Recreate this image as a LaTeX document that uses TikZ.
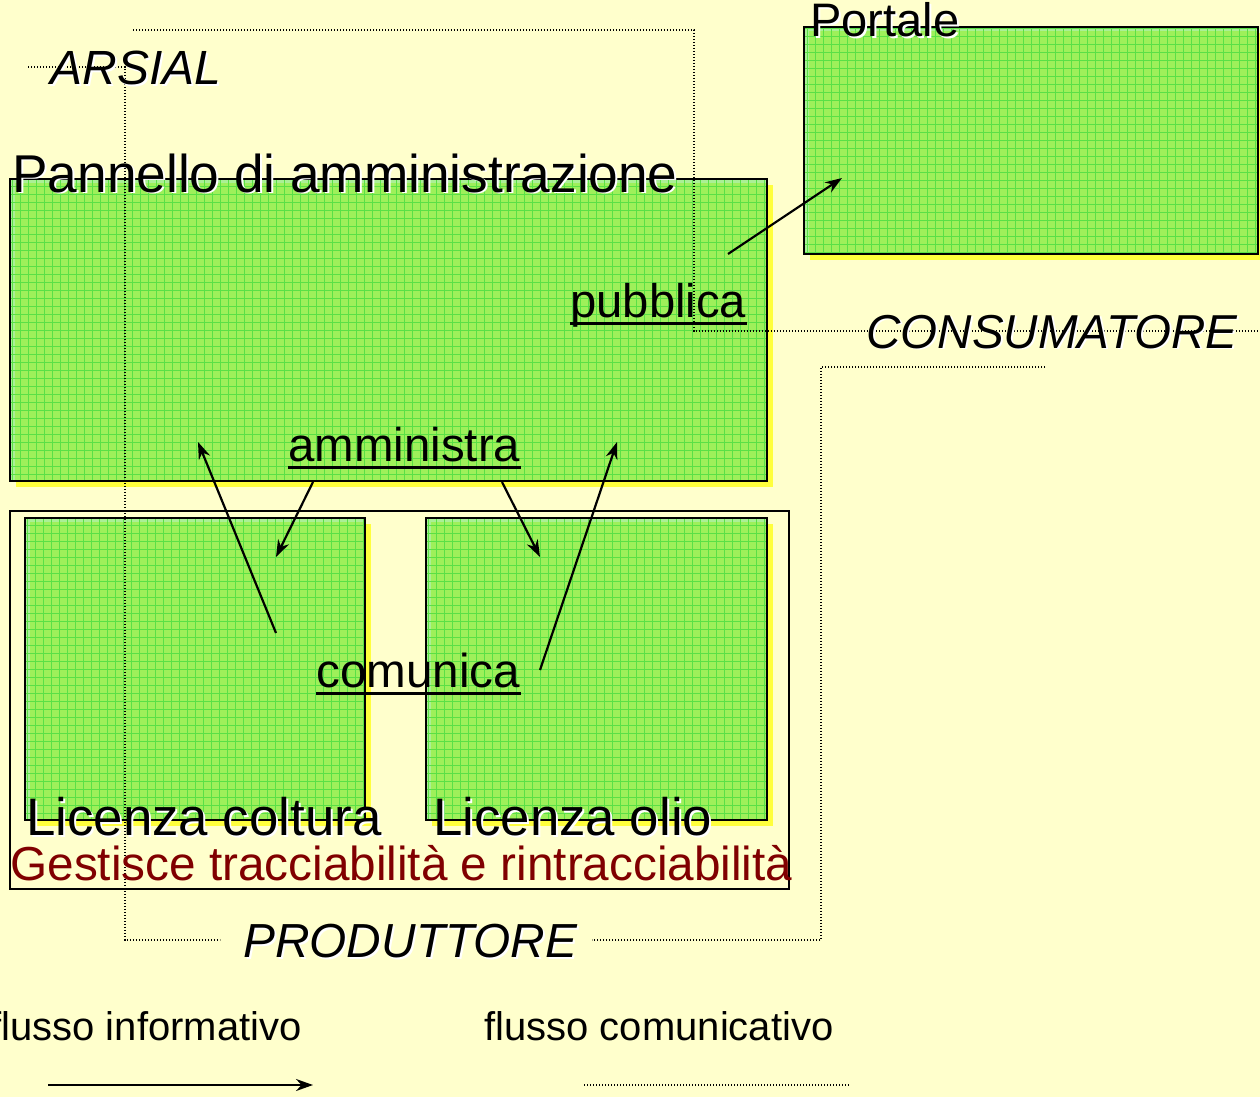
\documentclass[tikz,border=0pt]{standalone}
\usepackage{fontspec}
\setmainfont{Liberation Sans}
\usetikzlibrary{arrows.meta,shadows}
\definecolor{bgyellow}{RGB}{255,255,204}
\definecolor{boxgreen}{RGB}{158,240,90}
\definecolor{edgegreen}{RGB}{170,240,150}
\definecolor{gridgreen}{RGB}{90,224,70}
\definecolor{shadowyellow}{RGB}{255,255,60}
\definecolor{darkred}{RGB}{128,0,0}
\tikzset{
  greenbox/.style={draw=black, line width=1pt, fill=boxgreen, inner sep=0pt,
    general shadow={fill=shadowyellow, shadow xshift=3pt, shadow yshift=-3pt},
    path picture={
      \fill[edgegreen] (path picture bounding box.south west) rectangle
        ([xshift=2.5pt]path picture bounding box.north west);
      \fill[edgegreen] ([yshift=-2pt]path picture bounding box.north west) rectangle
        (path picture bounding box.north east);
      \draw[gridgreen, line width=0.45pt]
      (path picture bounding box.south west) grid[step=4pt]
      (path picture bounding box.north east);}},
  framebox/.style={draw=black, line width=0.8pt, inner sep=0pt},
  lbl/.style={anchor=base west, inner sep=0pt},
  txtshadow/.style={lbl, text=white},
  flowline/.style={line width=1.1pt, -{Stealth[length=8.5pt,width=6pt]}},
  dotline/.style={line width=0.6pt, dash pattern=on 0.6pt off 0.9pt},
  uline/.style={line width=1.5pt}
}
\begin{document}
\begin{tikzpicture}[x=0.5pt,y=-0.5pt]
\useasboundingbox[fill=bgyellow] (0,0) rectangle (1260,1097);

% boxes
\node[greenbox, minimum width=378.5pt, minimum height=151pt] (pannello) at (388.5,330) {};
\node[greenbox, minimum width=227pt, minimum height=113.5pt] (portale) at (1031,140.5) {};
\node[framebox, minimum width=389.5pt, minimum height=189pt] (produttore) at (399.5,700) {};
\node[greenbox, minimum width=170pt, minimum height=151pt] (coltura) at (195,669) {};
\node[greenbox, minimum width=170.5pt, minimum height=151pt] (olio) at (596.5,669) {};

% dotted group outlines
\coordinate (a1) at (28,67);
\coordinate (a2) at (125,67);
\coordinate (a3) at (125,940);
\coordinate (a4) at (220,940);
\draw[dotline] (a1) -- (a2) -- (a3) -- (a4);
\coordinate (b1) at (133,30);
\coordinate (b2) at (694,30);
\coordinate (b3) at (694,331);
\coordinate (b4) at (1260,331);
\draw[dotline] (b1) -- (b2) -- (b3) -- (b4);
\coordinate (c1) at (1045,367);
\coordinate (c2) at (821,367);
\coordinate (c3) at (821,940);
\coordinate (c4) at (592,940);
\draw[dotline] (c1) -- (c2) -- (c3) -- (c4);

% arrows
\coordinate (p1) at (728,254);
\coordinate (p2) at (842,178);
\draw[flowline] (p1) -- (p2);
\coordinate (am1) at (313,482);
\coordinate (am2) at (276,557);
\draw[flowline] (am1) -- (am2);
\coordinate (am3) at (502,482);
\coordinate (am4) at (540,557);
\draw[flowline] (am3) -- (am4);
\coordinate (co1) at (276,633);
\coordinate (co2) at (198,442);
\draw[flowline] (co1) -- (co2);
\coordinate (co3) at (540,670);
\coordinate (co4) at (617,442);
\draw[flowline] (co3) -- (co4);

% texts with white shadow
\node[txtshadow, font=\fontsize{24}{28}\selectfont\itshape] at (52,87) {ARSIAL};
\node[lbl, font=\fontsize{24}{28}\selectfont\itshape] (arsial) at (50,85) {ARSIAL};
\node[txtshadow, font=\fontsize{23.5}{28}\selectfont] at (812,39) {Portale};
\node[lbl, font=\fontsize{23.5}{28}\selectfont] (tportale) at (810,37) {Portale};
\node[txtshadow, font=\fontsize{26.6}{30}\selectfont] at (14,194) {Pannello di amministrazione};
\node[lbl, font=\fontsize{26.6}{30}\selectfont] (tpannello) at (12,192) {Pannello di amministrazione};
\node[txtshadow, font=\fontsize{23.8}{28}\selectfont\itshape] at (868,350) {CONSUMATORE};
\node[lbl, font=\fontsize{23.8}{28}\selectfont\itshape] (consumatore) at (866,348) {CONSUMATORE};
\node[txtshadow, font=\fontsize{26.4}{30}\selectfont] at (28,837) {Licenza coltura};
\node[lbl, font=\fontsize{26.4}{30}\selectfont] (tcoltura) at (26,835) {Licenza coltura};
\node[txtshadow, font=\fontsize{26.4}{30}\selectfont] at (435,837) {Licenza olio};
\node[lbl, font=\fontsize{26.4}{30}\selectfont] (tolio) at (433,835) {Licenza olio};
\node[txtshadow, font=\fontsize{23.9}{28}\selectfont\itshape] at (245,959) {PRODUTTORE};
\node[lbl, font=\fontsize{23.9}{28}\selectfont\itshape] (tprod) at (243,957) {PRODUTTORE};

% underlined verbs
\node[lbl, font=\fontsize{23.6}{28}\selectfont] (pubblica) at (570,317) {pubblica};
\draw[uline] ([yshift=-3pt]pubblica.base west) -- ([yshift=-3pt]pubblica.base east);
\node[lbl, font=\fontsize{23.7}{28}\selectfont] (amministra) at (288,461) {amministra};
\draw[uline] ([yshift=-3.3pt]amministra.base west) -- ([yshift=-3.3pt]amministra.base east);
\node[lbl, font=\fontsize{23.8}{28}\selectfont] (comunica) at (316,687) {comunica};
\draw[uline] ([yshift=-3.3pt]comunica.base west) -- ([yshift=-3.3pt]comunica.base east);

\node[lbl, text=darkred, font=\fontsize{23.85}{28}\selectfont] (gestisce) at (10,880) {Gestisce tracciabilità e rintracciabilità};

% legend
\node[anchor=base east, inner sep=0pt, font=\fontsize{20}{24}\selectfont] (leginfo) at (302,1040) {flusso informativo};
\node[lbl, font=\fontsize{20}{24}\selectfont] (legcom) at (484,1040) {flusso comunicativo};
\coordinate (l1) at (48,1085);
\coordinate (l2) at (313,1085);
\draw[flowline] (l1) -- (l2);
\coordinate (l3) at (584,1085);
\coordinate (l4) at (850,1085);
\draw[dotline] (l3) -- (l4);
\end{tikzpicture}
\end{document}
